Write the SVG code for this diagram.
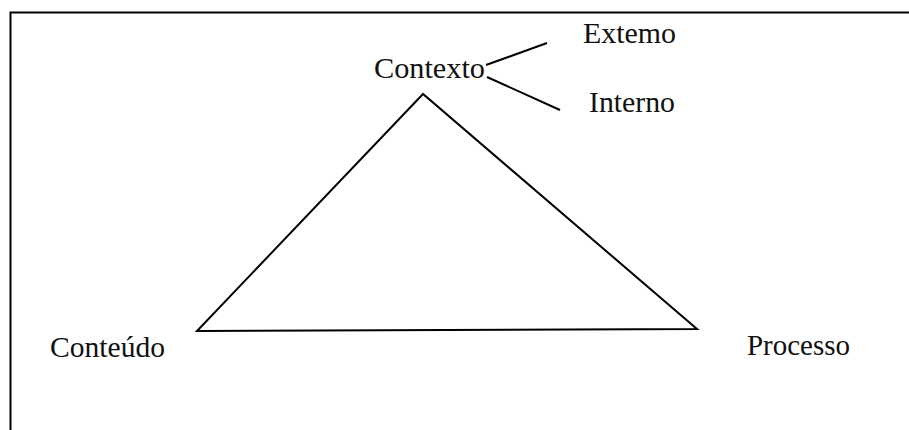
<svg xmlns="http://www.w3.org/2000/svg" width="909" height="430" viewBox="0 0 909 430">
<style>
.t{font-family:"Liberation Serif","Times New Roman",serif;font-size:29px;fill:#111}
.l{stroke:#000;stroke-width:2;fill:none;stroke-linejoin:miter}
</style>
<rect width="909" height="430" fill="#fff"/>
<g id="frame"><path class="l" d="M10.5,430 V12.5 H909"/></g>
<g id="connectors">
<path class="l" d="M423,94 L197,331 L697,329 Z"/>
<path class="l" d="M486,65 L547,43"/>
<path class="l" d="M487,77 L560,110"/>
</g>
<g id="contexto"><text class="t" x="374" y="78" textLength="111" lengthAdjust="spacingAndGlyphs">Contexto</text></g>
<g id="externo"><text class="t" x="583" y="43" textLength="93" lengthAdjust="spacingAndGlyphs">Extemo</text></g>
<g id="interno"><text class="t" x="589" y="112" textLength="86" lengthAdjust="spacingAndGlyphs">Interno</text></g>
<g id="conteudo"><text class="t" x="50" y="357" textLength="115" lengthAdjust="spacingAndGlyphs">Conteúdo</text></g>
<g id="processo"><text class="t" x="747" y="355" textLength="103" lengthAdjust="spacingAndGlyphs">Processo</text></g>
</svg>
